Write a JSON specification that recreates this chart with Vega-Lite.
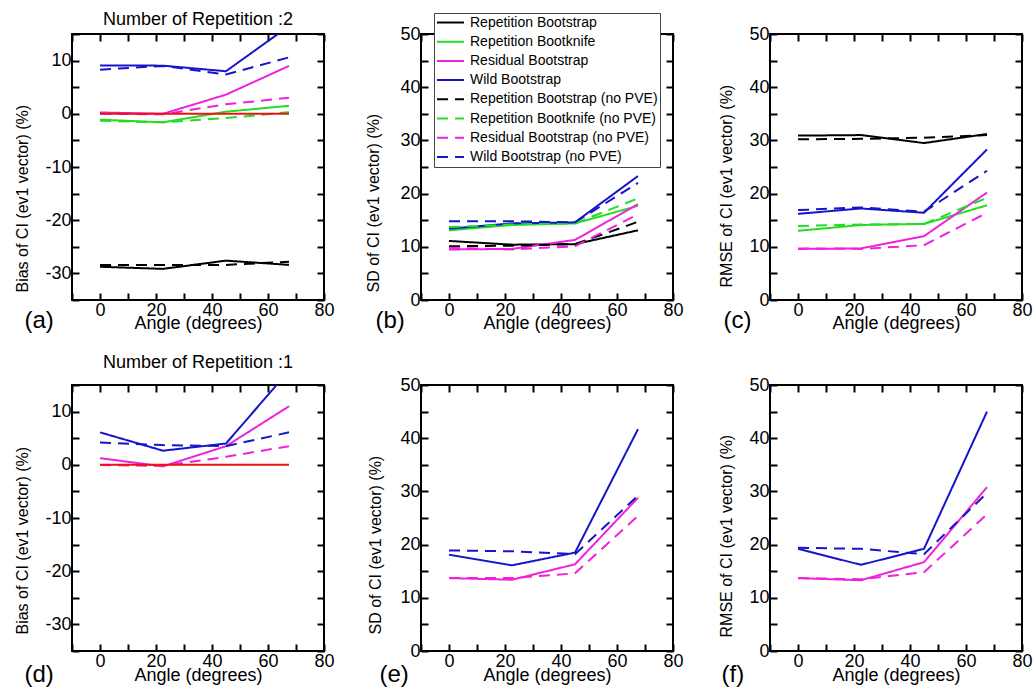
{
"$schema":"https://vega.github.io/schema/vega-lite/v6.json",
"background":"white",
"padding":{"left":12,"top":10,"right":5,"bottom":0},
"datasets":{"all":[
{"panel":"a","series":"Repetition Bootstrap","angle":0,"value":-28.75},{"panel":"a","series":"Repetition Bootstrap","angle":22.5,"value":-29.15},{"panel":"a","series":"Repetition Bootstrap","angle":45,"value":-27.6},{"panel":"a","series":"Repetition Bootstrap","angle":67.5,"value":-28.4},
{"panel":"a","series":"Repetition Bootknife","angle":0,"value":-1.1},{"panel":"a","series":"Repetition Bootknife","angle":22.5,"value":-1.6},{"panel":"a","series":"Repetition Bootknife","angle":45,"value":0.4},{"panel":"a","series":"Repetition Bootknife","angle":67.5,"value":1.5},
{"panel":"a","series":"Residual Bootstrap","angle":0,"value":0.25},{"panel":"a","series":"Residual Bootstrap","angle":22.5,"value":0.0},{"panel":"a","series":"Residual Bootstrap","angle":45,"value":3.6},{"panel":"a","series":"Residual Bootstrap","angle":67.5,"value":9.0},
{"panel":"a","series":"Wild Bootstrap","angle":0,"value":9.1},{"panel":"a","series":"Wild Bootstrap","angle":22.5,"value":9.05},{"panel":"a","series":"Wild Bootstrap","angle":45,"value":8.0},{"panel":"a","series":"Wild Bootstrap","angle":67.5,"value":16.5},
{"panel":"a","series":"Repetition Bootstrap (no PVE)","angle":0,"value":-28.4},{"panel":"a","series":"Repetition Bootstrap (no PVE)","angle":22.5,"value":-28.4},{"panel":"a","series":"Repetition Bootstrap (no PVE)","angle":45,"value":-28.4},{"panel":"a","series":"Repetition Bootstrap (no PVE)","angle":67.5,"value":-27.8},
{"panel":"a","series":"Repetition Bootknife (no PVE)","angle":0,"value":-1.3},{"panel":"a","series":"Repetition Bootknife (no PVE)","angle":22.5,"value":-1.6},{"panel":"a","series":"Repetition Bootknife (no PVE)","angle":45,"value":-0.8},{"panel":"a","series":"Repetition Bootknife (no PVE)","angle":67.5,"value":0.3},
{"panel":"a","series":"Residual Bootstrap (no PVE)","angle":0,"value":0.05},{"panel":"a","series":"Residual Bootstrap (no PVE)","angle":22.5,"value":-0.1},{"panel":"a","series":"Residual Bootstrap (no PVE)","angle":45,"value":1.8},{"panel":"a","series":"Residual Bootstrap (no PVE)","angle":67.5,"value":3.0},
{"panel":"a","series":"Wild Bootstrap (no PVE)","angle":0,"value":8.3},{"panel":"a","series":"Wild Bootstrap (no PVE)","angle":22.5,"value":9.0},{"panel":"a","series":"Wild Bootstrap (no PVE)","angle":45,"value":7.4},{"panel":"a","series":"Wild Bootstrap (no PVE)","angle":67.5,"value":10.6},
{"panel":"a","series":"Zero","angle":0,"value":0},{"panel":"a","series":"Zero","angle":67.5,"value":0},
{"panel":"b","series":"Repetition Bootstrap","angle":0,"value":11.1},{"panel":"b","series":"Repetition Bootstrap","angle":22.5,"value":10.4},{"panel":"b","series":"Repetition Bootstrap","angle":45,"value":10.5},{"panel":"b","series":"Repetition Bootstrap","angle":67.5,"value":13.1},
{"panel":"b","series":"Repetition Bootknife","angle":0,"value":13.1},{"panel":"b","series":"Repetition Bootknife","angle":22.5,"value":14.1},{"panel":"b","series":"Repetition Bootknife","angle":45,"value":14.4},{"panel":"b","series":"Repetition Bootknife","angle":67.5,"value":17.7},
{"panel":"b","series":"Residual Bootstrap","angle":0,"value":9.5},{"panel":"b","series":"Residual Bootstrap","angle":22.5,"value":9.6},{"panel":"b","series":"Residual Bootstrap","angle":45,"value":11.3},{"panel":"b","series":"Residual Bootstrap","angle":67.5,"value":18.0},
{"panel":"b","series":"Wild Bootstrap","angle":0,"value":13.4},{"panel":"b","series":"Wild Bootstrap","angle":22.5,"value":14.4},{"panel":"b","series":"Wild Bootstrap","angle":45,"value":14.6},{"panel":"b","series":"Wild Bootstrap","angle":67.5,"value":23.3},
{"panel":"b","series":"Repetition Bootstrap (no PVE)","angle":0,"value":10.1},{"panel":"b","series":"Repetition Bootstrap (no PVE)","angle":22.5,"value":10.2},{"panel":"b","series":"Repetition Bootstrap (no PVE)","angle":45,"value":10.5},{"panel":"b","series":"Repetition Bootstrap (no PVE)","angle":67.5,"value":14.7},
{"panel":"b","series":"Repetition Bootknife (no PVE)","angle":0,"value":13.7},{"panel":"b","series":"Repetition Bootknife (no PVE)","angle":22.5,"value":14.2},{"panel":"b","series":"Repetition Bootknife (no PVE)","angle":45,"value":14.4},{"panel":"b","series":"Repetition Bootknife (no PVE)","angle":67.5,"value":19.1},
{"panel":"b","series":"Residual Bootstrap (no PVE)","angle":0,"value":9.8},{"panel":"b","series":"Residual Bootstrap (no PVE)","angle":22.5,"value":9.5},{"panel":"b","series":"Residual Bootstrap (no PVE)","angle":45,"value":10.1},{"panel":"b","series":"Residual Bootstrap (no PVE)","angle":67.5,"value":16.1},
{"panel":"b","series":"Wild Bootstrap (no PVE)","angle":0,"value":14.8},{"panel":"b","series":"Wild Bootstrap (no PVE)","angle":22.5,"value":14.8},{"panel":"b","series":"Wild Bootstrap (no PVE)","angle":45,"value":14.6},{"panel":"b","series":"Wild Bootstrap (no PVE)","angle":67.5,"value":22.0},
{"panel":"c","series":"Repetition Bootstrap","angle":0,"value":30.9},{"panel":"c","series":"Repetition Bootstrap","angle":22.5,"value":31.0},{"panel":"c","series":"Repetition Bootstrap","angle":45,"value":29.5},{"panel":"c","series":"Repetition Bootstrap","angle":67.5,"value":31.2},
{"panel":"c","series":"Repetition Bootknife","angle":0,"value":13.0},{"panel":"c","series":"Repetition Bootknife","angle":22.5,"value":14.1},{"panel":"c","series":"Repetition Bootknife","angle":45,"value":14.3},{"panel":"c","series":"Repetition Bootknife","angle":67.5,"value":17.8},
{"panel":"c","series":"Residual Bootstrap","angle":0,"value":9.6},{"panel":"c","series":"Residual Bootstrap","angle":22.5,"value":9.7},{"panel":"c","series":"Residual Bootstrap","angle":45,"value":12.0},{"panel":"c","series":"Residual Bootstrap","angle":67.5,"value":20.2},
{"panel":"c","series":"Wild Bootstrap","angle":0,"value":16.2},{"panel":"c","series":"Wild Bootstrap","angle":22.5,"value":17.2},{"panel":"c","series":"Wild Bootstrap","angle":45,"value":16.4},{"panel":"c","series":"Wild Bootstrap","angle":67.5,"value":28.3},
{"panel":"c","series":"Repetition Bootstrap (no PVE)","angle":0,"value":30.2},{"panel":"c","series":"Repetition Bootstrap (no PVE)","angle":22.5,"value":30.3},{"panel":"c","series":"Repetition Bootstrap (no PVE)","angle":45,"value":30.5},{"panel":"c","series":"Repetition Bootstrap (no PVE)","angle":67.5,"value":31.0},
{"panel":"c","series":"Repetition Bootknife (no PVE)","angle":0,"value":13.9},{"panel":"c","series":"Repetition Bootknife (no PVE)","angle":22.5,"value":14.2},{"panel":"c","series":"Repetition Bootknife (no PVE)","angle":45,"value":14.3},{"panel":"c","series":"Repetition Bootknife (no PVE)","angle":67.5,"value":19.2},
{"panel":"c","series":"Residual Bootstrap (no PVE)","angle":0,"value":9.7},{"panel":"c","series":"Residual Bootstrap (no PVE)","angle":22.5,"value":9.6},{"panel":"c","series":"Residual Bootstrap (no PVE)","angle":45,"value":10.3},{"panel":"c","series":"Residual Bootstrap (no PVE)","angle":67.5,"value":16.4},
{"panel":"c","series":"Wild Bootstrap (no PVE)","angle":0,"value":16.9},{"panel":"c","series":"Wild Bootstrap (no PVE)","angle":22.5,"value":17.4},{"panel":"c","series":"Wild Bootstrap (no PVE)","angle":45,"value":16.6},{"panel":"c","series":"Wild Bootstrap (no PVE)","angle":67.5,"value":24.3},
{"panel":"d","series":"Residual Bootstrap","angle":0,"value":1.25},{"panel":"d","series":"Residual Bootstrap","angle":22.5,"value":-0.3},{"panel":"d","series":"Residual Bootstrap","angle":45,"value":3.5},{"panel":"d","series":"Residual Bootstrap","angle":67.5,"value":11.0},
{"panel":"d","series":"Wild Bootstrap","angle":0,"value":6.1},{"panel":"d","series":"Wild Bootstrap","angle":22.5,"value":2.65},{"panel":"d","series":"Wild Bootstrap","angle":45,"value":4.0},{"panel":"d","series":"Wild Bootstrap","angle":67.5,"value":17.7},
{"panel":"d","series":"Residual Bootstrap (no PVE)","angle":0,"value":-0.05},{"panel":"d","series":"Residual Bootstrap (no PVE)","angle":22.5,"value":-0.2},{"panel":"d","series":"Residual Bootstrap (no PVE)","angle":45,"value":1.5},{"panel":"d","series":"Residual Bootstrap (no PVE)","angle":67.5,"value":3.5},
{"panel":"d","series":"Wild Bootstrap (no PVE)","angle":0,"value":4.2},{"panel":"d","series":"Wild Bootstrap (no PVE)","angle":22.5,"value":3.7},{"panel":"d","series":"Wild Bootstrap (no PVE)","angle":45,"value":3.5},{"panel":"d","series":"Wild Bootstrap (no PVE)","angle":67.5,"value":6.1},
{"panel":"d","series":"Zero","angle":0,"value":0},{"panel":"d","series":"Zero","angle":67.5,"value":0},
{"panel":"e","series":"Residual Bootstrap","angle":0,"value":13.7},{"panel":"e","series":"Residual Bootstrap","angle":22.5,"value":13.4},{"panel":"e","series":"Residual Bootstrap","angle":45,"value":16.3},{"panel":"e","series":"Residual Bootstrap","angle":67.5,"value":28.8},
{"panel":"e","series":"Wild Bootstrap","angle":0,"value":18.1},{"panel":"e","series":"Wild Bootstrap","angle":22.5,"value":16.1},{"panel":"e","series":"Wild Bootstrap","angle":45,"value":18.5},{"panel":"e","series":"Wild Bootstrap","angle":67.5,"value":41.7},
{"panel":"e","series":"Residual Bootstrap (no PVE)","angle":0,"value":13.7},{"panel":"e","series":"Residual Bootstrap (no PVE)","angle":22.5,"value":13.7},{"panel":"e","series":"Residual Bootstrap (no PVE)","angle":45,"value":14.6},{"panel":"e","series":"Residual Bootstrap (no PVE)","angle":67.5,"value":25.4},
{"panel":"e","series":"Wild Bootstrap (no PVE)","angle":0,"value":18.9},{"panel":"e","series":"Wild Bootstrap (no PVE)","angle":22.5,"value":18.75},{"panel":"e","series":"Wild Bootstrap (no PVE)","angle":45,"value":18.2},{"panel":"e","series":"Wild Bootstrap (no PVE)","angle":67.5,"value":29.2},
{"panel":"f","series":"Residual Bootstrap","angle":0,"value":13.7},{"panel":"f","series":"Residual Bootstrap","angle":22.5,"value":13.3},{"panel":"f","series":"Residual Bootstrap","angle":45,"value":16.7},{"panel":"f","series":"Residual Bootstrap","angle":67.5,"value":30.8},
{"panel":"f","series":"Wild Bootstrap","angle":0,"value":19.2},{"panel":"f","series":"Wild Bootstrap","angle":22.5,"value":16.2},{"panel":"f","series":"Wild Bootstrap","angle":45,"value":19.2},{"panel":"f","series":"Wild Bootstrap","angle":67.5,"value":45.0},
{"panel":"f","series":"Residual Bootstrap (no PVE)","angle":0,"value":13.7},{"panel":"f","series":"Residual Bootstrap (no PVE)","angle":22.5,"value":13.5},{"panel":"f","series":"Residual Bootstrap (no PVE)","angle":45,"value":14.8},{"panel":"f","series":"Residual Bootstrap (no PVE)","angle":67.5,"value":25.7},
{"panel":"f","series":"Wild Bootstrap (no PVE)","angle":0,"value":19.4},{"panel":"f","series":"Wild Bootstrap (no PVE)","angle":22.5,"value":19.2},{"panel":"f","series":"Wild Bootstrap (no PVE)","angle":45,"value":18.2},{"panel":"f","series":"Wild Bootstrap (no PVE)","angle":67.5,"value":29.7}
]},
"data":{"name":"all"},
"columns":3,
"spacing":{"row":85,"column":97},
"bounds":"flush",
"resolve":{"scale":{"color":"independent","strokeDash":"independent"},"legend":{"color":"independent","strokeDash":"independent"}},
"concat":[
{"width":252,"height":266,
 "title":{"text":"Number of Repetition :2","offset":-4},
 "layer":[
  {"transform":[{"filter":"datum.panel=='a' && datum.series!='Zero'"}],
   "mark":{"type":"line","strokeWidth":2,"clip":true},
   "encoding":{
    "x":{"field":"angle","type":"quantitative","scale":{"domain":[-10,80],"nice":false},"axis":{"values":[-10,0,10,20,30,40,50,60,70,80],"labelExpr":"datum.value >= 0 && datum.value % 20 == 0 ? '' + datum.value : ''","title":"Angle (degrees)","titleFontSize":18,"titleY":28,"titleBaseline":"alphabetic"}},
    "y":{"field":"value","type":"quantitative","scale":{"domain":[-35,15],"nice":false},"axis":{"values":[-35,-30,-25,-20,-15,-10,-5,0,5,10,15],"labelExpr":"datum.value % 10 == 0 ? '' + datum.value : ''","title":"Bias of CI (ev1 vector) (%)","titleFontSize":16,"titleAngle":270,"titleX":-50,"titleY":258,"titleAlign":"left","titleBaseline":"middle"}},
    "color":{"field":"series","type":"nominal","legend":null,"scale":{"domain":["Repetition Bootstrap","Repetition Bootknife","Residual Bootstrap","Wild Bootstrap","Repetition Bootstrap (no PVE)","Repetition Bootknife (no PVE)","Residual Bootstrap (no PVE)","Wild Bootstrap (no PVE)"],"range":["#000000","#22dd22","#ee22dd","#1515cc","#000000","#22dd22","#ee22dd","#1515cc"]}},
    "strokeDash":{"field":"series","type":"nominal","legend":null,"scale":{"domain":["Repetition Bootstrap","Repetition Bootknife","Residual Bootstrap","Wild Bootstrap","Repetition Bootstrap (no PVE)","Repetition Bootknife (no PVE)","Residual Bootstrap (no PVE)","Wild Bootstrap (no PVE)"],"range":[[1,0],[1,0],[1,0],[1,0],[11,7],[11,7],[11,7],[11,7]]}}
   }},
  {"transform":[{"filter":"datum.panel=='a' && datum.series=='Zero'"}],
   "mark":{"type":"line","strokeWidth":2,"color":"#ee1111","clip":true},
   "encoding":{"x":{"field":"angle","type":"quantitative","scale":{"domain":[-10,80],"nice":false},"axis":null},"y":{"field":"value","type":"quantitative","scale":{"domain":[-35,15],"nice":false},"axis":null}}},
  {"transform":[{"filter":"datum.panel=='a'"}],
   "mark":{"type":"point","opacity":0,"clip":true},
   "encoding":{"x":{"field":"angle","type":"quantitative","scale":{"domain":[-10,80],"nice":false},"axis":{"orient":"top","values":[-10,0,10,20,30,40,50,60,70,80],"labels":false,"title":"(a)","titleX":-48,"titleY":293,"titleAlign":"left","titleBaseline":"alphabetic","titleFontSize":24,"titleAngle":0}},
    "y":{"field":"value","type":"quantitative","scale":{"domain":[-35,15],"nice":false},"axis":{"orient":"right","values":[-35,-30,-25,-20,-15,-10,-5,0,5,10,15],"labels":false,"title":null}}}}
 ],
 "resolve":{"axis":{"x":"independent","y":"independent"}}},
{"width":252,"height":266,
 "layer":[
  {"transform":[{"filter":"datum.panel=='b'"}],
   "mark":{"type":"line","strokeWidth":2,"clip":true},
   "encoding":{
    "x":{"field":"angle","type":"quantitative","scale":{"domain":[-10,80],"nice":false},"axis":{"values":[-10,0,10,20,30,40,50,60,70,80],"labelExpr":"datum.value >= 0 && datum.value % 20 == 0 ? '' + datum.value : ''","title":"Angle (degrees)","titleFontSize":18,"titleY":28,"titleBaseline":"alphabetic"}},
    "y":{"field":"value","type":"quantitative","scale":{"domain":[0,50],"nice":false},"axis":{"values":[0,5,10,15,20,25,30,35,40,45,50],"labelExpr":"datum.value % 10 == 0 ? '' + datum.value : ''","title":"SD of CI (ev1 vector) (%)","titleFontSize":16,"titleAngle":270,"titleX":-48,"titleY":258,"titleAlign":"left","titleBaseline":"middle"}},
    "color":{"field":"series","type":"nominal","title":null,"legend":{"orient":"none","legendX":13,"legendY":-21,"title":null,"symbolType":"stroke","symbolSize":729,"symbolStrokeWidth":2,"labelFontSize":14,"labelFont":"Liberation Sans","labelColor":"black","labelLimit":400,"labelOffset":5,"clipHeight":15,"rowPadding":4.2,"padding":2,"strokeColor":"#444444","fillColor":"white"},"scale":{"domain":["Repetition Bootstrap","Repetition Bootknife","Residual Bootstrap","Wild Bootstrap","Repetition Bootstrap (no PVE)","Repetition Bootknife (no PVE)","Residual Bootstrap (no PVE)","Wild Bootstrap (no PVE)"],"range":["#000000","#22dd22","#ee22dd","#1515cc","#000000","#22dd22","#ee22dd","#1515cc"]}},
    "strokeDash":{"field":"series","type":"nominal","title":null,"legend":{"orient":"none","legendX":13,"legendY":-21,"title":null,"symbolType":"stroke","symbolSize":729,"symbolStrokeWidth":2,"labelFontSize":14,"labelFont":"Liberation Sans","labelColor":"black","labelLimit":400,"labelOffset":5,"clipHeight":15,"rowPadding":4.2,"padding":2,"strokeColor":"#444444","fillColor":"white"},"scale":{"domain":["Repetition Bootstrap","Repetition Bootknife","Residual Bootstrap","Wild Bootstrap","Repetition Bootstrap (no PVE)","Repetition Bootknife (no PVE)","Residual Bootstrap (no PVE)","Wild Bootstrap (no PVE)"],"range":[[1,0],[1,0],[1,0],[1,0],[11,7],[11,7],[11,7],[11,7]]}}
   }},
  {"transform":[{"filter":"datum.panel=='b'"}],
   "mark":{"type":"point","opacity":0,"clip":true},
   "encoding":{"x":{"field":"angle","type":"quantitative","scale":{"domain":[-10,80],"nice":false},"axis":{"orient":"top","values":[-10,0,10,20,30,40,50,60,70,80],"labels":false,"title":"(b)","titleX":-46,"titleY":293,"titleAlign":"left","titleBaseline":"alphabetic","titleFontSize":24,"titleAngle":0}},
    "y":{"field":"value","type":"quantitative","scale":{"domain":[0,50],"nice":false},"axis":{"orient":"right","values":[0,5,10,15,20,25,30,35,40,45,50],"labels":false,"title":null}}}}
 ],
 "resolve":{"axis":{"x":"independent","y":"independent"}}},
{"width":252,"height":266,
 "layer":[
  {"transform":[{"filter":"datum.panel=='c'"}],
   "mark":{"type":"line","strokeWidth":2,"clip":true},
   "encoding":{
    "x":{"field":"angle","type":"quantitative","scale":{"domain":[-10,80],"nice":false},"axis":{"values":[-10,0,10,20,30,40,50,60,70,80],"labelExpr":"datum.value >= 0 && datum.value % 20 == 0 ? '' + datum.value : ''","title":"Angle (degrees)","titleFontSize":18,"titleY":28,"titleBaseline":"alphabetic"}},
    "y":{"field":"value","type":"quantitative","scale":{"domain":[0,50],"nice":false},"axis":{"values":[0,5,10,15,20,25,30,35,40,45,50],"labelExpr":"datum.value % 10 == 0 ? '' + datum.value : ''","title":"RMSE of CI (ev1 vector) (%)","titleFontSize":16,"titleAngle":270,"titleX":-44,"titleY":253,"titleAlign":"left","titleBaseline":"middle"}},
    "color":{"field":"series","type":"nominal","legend":null,"scale":{"domain":["Repetition Bootstrap","Repetition Bootknife","Residual Bootstrap","Wild Bootstrap","Repetition Bootstrap (no PVE)","Repetition Bootknife (no PVE)","Residual Bootstrap (no PVE)","Wild Bootstrap (no PVE)"],"range":["#000000","#22dd22","#ee22dd","#1515cc","#000000","#22dd22","#ee22dd","#1515cc"]}},
    "strokeDash":{"field":"series","type":"nominal","legend":null,"scale":{"domain":["Repetition Bootstrap","Repetition Bootknife","Residual Bootstrap","Wild Bootstrap","Repetition Bootstrap (no PVE)","Repetition Bootknife (no PVE)","Residual Bootstrap (no PVE)","Wild Bootstrap (no PVE)"],"range":[[1,0],[1,0],[1,0],[1,0],[11,7],[11,7],[11,7],[11,7]]}}
   }},
  {"transform":[{"filter":"datum.panel=='c'"}],
   "mark":{"type":"point","opacity":0,"clip":true},
   "encoding":{"x":{"field":"angle","type":"quantitative","scale":{"domain":[-10,80],"nice":false},"axis":{"orient":"top","values":[-10,0,10,20,30,40,50,60,70,80],"labels":false,"title":"(c)","titleX":-47,"titleY":293,"titleAlign":"left","titleBaseline":"alphabetic","titleFontSize":24,"titleAngle":0}},
    "y":{"field":"value","type":"quantitative","scale":{"domain":[0,50],"nice":false},"axis":{"orient":"right","values":[0,5,10,15,20,25,30,35,40,45,50],"labels":false,"title":null}}}}
 ],
 "resolve":{"axis":{"x":"independent","y":"independent"}}},
{"width":252,"height":266,
 "title":{"text":"Number of Repetition :1","offset":4},
 "layer":[
  {"transform":[{"filter":"datum.panel=='d' && datum.series!='Zero'"}],
   "mark":{"type":"line","strokeWidth":2,"clip":true},
   "encoding":{
    "x":{"field":"angle","type":"quantitative","scale":{"domain":[-10,80],"nice":false},"axis":{"values":[-10,0,10,20,30,40,50,60,70,80],"labelExpr":"datum.value >= 0 && datum.value % 20 == 0 ? '' + datum.value : ''","title":"Angle (degrees)","titleFontSize":18,"titleY":29,"titleBaseline":"alphabetic"}},
    "y":{"field":"value","type":"quantitative","scale":{"domain":[-35,15],"nice":false},"axis":{"values":[-35,-30,-25,-20,-15,-10,-5,0,5,10,15],"labelExpr":"datum.value % 10 == 0 ? '' + datum.value : ''","title":"Bias of CI (ev1 vector) (%)","titleFontSize":16,"titleAngle":270,"titleX":-50,"titleY":249,"titleAlign":"left","titleBaseline":"middle"}},
    "color":{"field":"series","type":"nominal","legend":null,"scale":{"domain":["Repetition Bootstrap","Repetition Bootknife","Residual Bootstrap","Wild Bootstrap","Repetition Bootstrap (no PVE)","Repetition Bootknife (no PVE)","Residual Bootstrap (no PVE)","Wild Bootstrap (no PVE)"],"range":["#000000","#22dd22","#ee22dd","#1515cc","#000000","#22dd22","#ee22dd","#1515cc"]}},
    "strokeDash":{"field":"series","type":"nominal","legend":null,"scale":{"domain":["Repetition Bootstrap","Repetition Bootknife","Residual Bootstrap","Wild Bootstrap","Repetition Bootstrap (no PVE)","Repetition Bootknife (no PVE)","Residual Bootstrap (no PVE)","Wild Bootstrap (no PVE)"],"range":[[1,0],[1,0],[1,0],[1,0],[11,7],[11,7],[11,7],[11,7]]}}
   }},
  {"transform":[{"filter":"datum.panel=='d' && datum.series=='Zero'"}],
   "mark":{"type":"line","strokeWidth":2,"color":"#ee1111","clip":true},
   "encoding":{"x":{"field":"angle","type":"quantitative","scale":{"domain":[-10,80],"nice":false},"axis":null},"y":{"field":"value","type":"quantitative","scale":{"domain":[-35,15],"nice":false},"axis":null}}},
  {"transform":[{"filter":"datum.panel=='d'"}],
   "mark":{"type":"point","opacity":0,"clip":true},
   "encoding":{"x":{"field":"angle","type":"quantitative","scale":{"domain":[-10,80],"nice":false},"axis":{"orient":"top","values":[-10,0,10,20,30,40,50,60,70,80],"labels":false,"title":"(d)","titleX":-48,"titleY":296,"titleAlign":"left","titleBaseline":"alphabetic","titleFontSize":24,"titleAngle":0}},
    "y":{"field":"value","type":"quantitative","scale":{"domain":[-35,15],"nice":false},"axis":{"orient":"right","values":[-35,-30,-25,-20,-15,-10,-5,0,5,10,15],"labels":false,"title":null}}}}
 ],
 "resolve":{"axis":{"x":"independent","y":"independent"}}},
{"width":252,"height":266,
 "layer":[
  {"transform":[{"filter":"datum.panel=='e'"}],
   "mark":{"type":"line","strokeWidth":2,"clip":true},
   "encoding":{
    "x":{"field":"angle","type":"quantitative","scale":{"domain":[-10,80],"nice":false},"axis":{"values":[-10,0,10,20,30,40,50,60,70,80],"labelExpr":"datum.value >= 0 && datum.value % 20 == 0 ? '' + datum.value : ''","title":"Angle (degrees)","titleFontSize":18,"titleY":29,"titleBaseline":"alphabetic"}},
    "y":{"field":"value","type":"quantitative","scale":{"domain":[0,50],"nice":false},"axis":{"values":[0,5,10,15,20,25,30,35,40,45,50],"labelExpr":"datum.value % 10 == 0 ? '' + datum.value : ''","title":"SD of CI (ev1 vector) (%)","titleFontSize":16,"titleAngle":270,"titleX":-46,"titleY":249,"titleAlign":"left","titleBaseline":"middle"}},
    "color":{"field":"series","type":"nominal","legend":null,"scale":{"domain":["Repetition Bootstrap","Repetition Bootknife","Residual Bootstrap","Wild Bootstrap","Repetition Bootstrap (no PVE)","Repetition Bootknife (no PVE)","Residual Bootstrap (no PVE)","Wild Bootstrap (no PVE)"],"range":["#000000","#22dd22","#ee22dd","#1515cc","#000000","#22dd22","#ee22dd","#1515cc"]}},
    "strokeDash":{"field":"series","type":"nominal","legend":null,"scale":{"domain":["Repetition Bootstrap","Repetition Bootknife","Residual Bootstrap","Wild Bootstrap","Repetition Bootstrap (no PVE)","Repetition Bootknife (no PVE)","Residual Bootstrap (no PVE)","Wild Bootstrap (no PVE)"],"range":[[1,0],[1,0],[1,0],[1,0],[11,7],[11,7],[11,7],[11,7]]}}
   }},
  {"transform":[{"filter":"datum.panel=='e'"}],
   "mark":{"type":"point","opacity":0,"clip":true},
   "encoding":{"x":{"field":"angle","type":"quantitative","scale":{"domain":[-10,80],"nice":false},"axis":{"orient":"top","values":[-10,0,10,20,30,40,50,60,70,80],"labels":false,"title":"(e)","titleX":-42,"titleY":296,"titleAlign":"left","titleBaseline":"alphabetic","titleFontSize":24,"titleAngle":0}},
    "y":{"field":"value","type":"quantitative","scale":{"domain":[0,50],"nice":false},"axis":{"orient":"right","values":[0,5,10,15,20,25,30,35,40,45,50],"labels":false,"title":null}}}}
 ],
 "resolve":{"axis":{"x":"independent","y":"independent"}}},
{"width":252,"height":266,
 "layer":[
  {"transform":[{"filter":"datum.panel=='f'"}],
   "mark":{"type":"line","strokeWidth":2,"clip":true},
   "encoding":{
    "x":{"field":"angle","type":"quantitative","scale":{"domain":[-10,80],"nice":false},"axis":{"values":[-10,0,10,20,30,40,50,60,70,80],"labelExpr":"datum.value >= 0 && datum.value % 20 == 0 ? '' + datum.value : ''","title":"Angle (degrees)","titleFontSize":18,"titleY":29,"titleBaseline":"alphabetic"}},
    "y":{"field":"value","type":"quantitative","scale":{"domain":[0,50],"nice":false},"axis":{"values":[0,5,10,15,20,25,30,35,40,45,50],"labelExpr":"datum.value % 10 == 0 ? '' + datum.value : ''","title":"RMSE of CI (ev1 vector) (%)","titleFontSize":16,"titleAngle":270,"titleX":-44,"titleY":252,"titleAlign":"left","titleBaseline":"middle"}},
    "color":{"field":"series","type":"nominal","legend":null,"scale":{"domain":["Repetition Bootstrap","Repetition Bootknife","Residual Bootstrap","Wild Bootstrap","Repetition Bootstrap (no PVE)","Repetition Bootknife (no PVE)","Residual Bootstrap (no PVE)","Wild Bootstrap (no PVE)"],"range":["#000000","#22dd22","#ee22dd","#1515cc","#000000","#22dd22","#ee22dd","#1515cc"]}},
    "strokeDash":{"field":"series","type":"nominal","legend":null,"scale":{"domain":["Repetition Bootstrap","Repetition Bootknife","Residual Bootstrap","Wild Bootstrap","Repetition Bootstrap (no PVE)","Repetition Bootknife (no PVE)","Residual Bootstrap (no PVE)","Wild Bootstrap (no PVE)"],"range":[[1,0],[1,0],[1,0],[1,0],[11,7],[11,7],[11,7],[11,7]]}}
   }},
  {"transform":[{"filter":"datum.panel=='f'"}],
   "mark":{"type":"point","opacity":0,"clip":true},
   "encoding":{"x":{"field":"angle","type":"quantitative","scale":{"domain":[-10,80],"nice":false},"axis":{"orient":"top","values":[-10,0,10,20,30,40,50,60,70,80],"labels":false,"title":"(f)","titleX":-49,"titleY":296,"titleAlign":"left","titleBaseline":"alphabetic","titleFontSize":24,"titleAngle":0}},
    "y":{"field":"value","type":"quantitative","scale":{"domain":[0,50],"nice":false},"axis":{"orient":"right","values":[0,5,10,15,20,25,30,35,40,45,50],"labels":false,"title":null}}}}
 ],
 "resolve":{"axis":{"x":"independent","y":"independent"}}}
],
"config":{
 "font":"Liberation Sans",
 "view":{"stroke":"black","strokeWidth":2},
 "axis":{"domain":false,"grid":false,"tickColor":"black","tickWidth":2,"tickSize":-7,"labelPadding":8,"labelFontSize":18,"labelColor":"black","labelFont":"Liberation Sans","titleFont":"Liberation Sans","titleColor":"black","titleFontWeight":"normal","labelFlush":false,"labelOverlap":false},
 "title":{"fontSize":18,"fontWeight":"normal","font":"Liberation Sans","color":"black"},
 "legend":{"labelFont":"Liberation Sans"}
}
}
